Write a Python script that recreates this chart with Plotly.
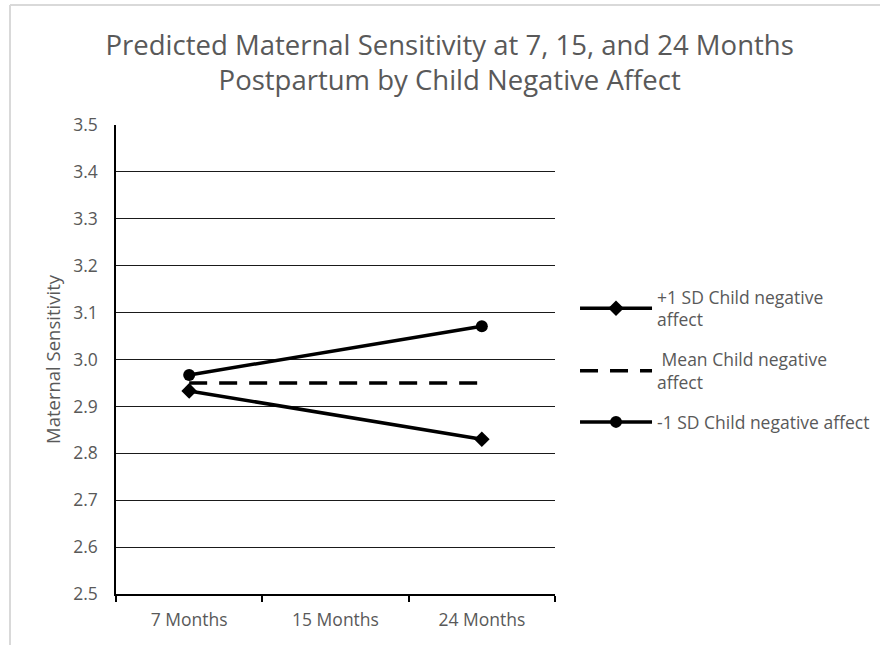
import plotly.graph_objects as go

categories = ["7 Months", "15 Months", "24 Months"]
x_points = ["7 Months", "24 Months"]
plus_sd = [2.933, 2.830]
mean_vals = [2.950, 2.950]
minus_sd = [2.967, 3.071]
series_names = ["+1 SD Child negative<br>affect", " Mean Child negative<br>affect", "-1 SD Child negative affect"]
y_ticks = [2.5, 2.6, 2.7, 2.8, 2.9, 3.0, 3.1, 3.2, 3.3, 3.4, 3.5]

FONT = "Open Sans"
GRAY = "#595959"

fig = go.Figure()
fig.add_trace(go.Scatter(x=x_points, y=plus_sd, name=series_names[0], mode="lines+markers",
                         legendgroup="a",
                         line=dict(color="black", width=3.5),
                         marker=dict(symbol="diamond", size=12, color="black")))
fig.add_trace(go.Scatter(x=x_points, y=mean_vals, name=series_names[1], mode="lines",
                         legendgroup="b",
                         line=dict(color="black", width=3.5, dash="18px,12px")))
fig.add_trace(go.Scatter(x=x_points, y=minus_sd, name=series_names[2], mode="lines+markers",
                         legendgroup="c",
                         line=dict(color="black", width=3.5),
                         marker=dict(symbol="circle", size=12, color="black")))

fig.update_layout(
    width=880, height=645,
    margin=dict(l=116, r=325, t=125, b=51, autoexpand=False),
    paper_bgcolor="white", plot_bgcolor="white",
    font=dict(family=FONT, color=GRAY, size=17.5),
    title=dict(text="Predicted Maternal Sensitivity at 7, 15, and 24 Months<br>Postpartum by Child Negative Affect",
               x=0.511, xanchor="center", y=0.9155, yanchor="middle",
               font=dict(family=FONT, size=27.5, color=GRAY)),
    showlegend=True,
    legend=dict(x=1.0456, xanchor="left", y=0.5, yanchor="middle",
                font=dict(family=FONT, size=17.5, color=GRAY),
                itemwidth=72, tracegroupgap=14, bgcolor="rgba(0,0,0,0)"),
    xaxis=dict(type="category", categoryorder="array", categoryarray=categories,
               range=[-0.5, 2.5], tickson="boundaries", ticks="outside", ticklen=6,
               tickcolor="black", tickwidth=1.5, showline=True, linecolor="black", linewidth=1.5,
               showgrid=False, ticklabelstandoff=9,
               tickfont=dict(family=FONT, size=17.5, color=GRAY)),
    yaxis=dict(range=[2.5, 3.5], tickvals=y_ticks, ticktext=[f"{v:.1f}" for v in y_ticks],
               showgrid=True, gridcolor="#1a1a1a", gridwidth=1.2, zeroline=False,
               showline=True, linecolor="black", linewidth=1.5, ticks="",
               ticklabelstandoff=13,
               title=dict(text="Maternal Sensitivity", font=dict(family=FONT, size=18.5, color=GRAY), standoff=8),
               tickfont=dict(family=FONT, size=17.5, color=GRAY)),
    shapes=[
        dict(type="line", xref="paper", yref="paper", x0=-0.2415, x1=1.8, y0=1.256, y1=1.256,
             line=dict(color="#d9d9d9", width=2)),
        dict(type="line", xref="paper", yref="paper", x0=-0.2415, x1=-0.2415, y0=1.256, y1=-0.2,
             line=dict(color="#d9d9d9", width=2)),
    ],
)

fig.write_html("out.html", config={"displayModeBar": False},
               post_script="document.body.style.margin='0px';")
